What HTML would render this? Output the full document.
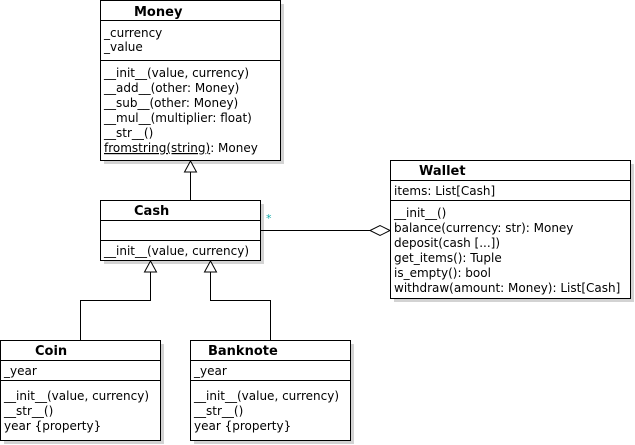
<!DOCTYPE html>
<html><head><style>
html,body{margin:0;padding:0;background:#fff;}
svg{display:block;}
text{font-family:"DejaVu Sans",sans-serif;font-size:12px;fill:#000;}
.b{font-weight:bold;font-size:13px;}
</style></head><body>
<svg width="635" height="445" xmlns="http://www.w3.org/2000/svg">
<g fill="#d3d3d3">
<rect x="104" y="4" width="180" height="160"/>
<rect x="104" y="204" width="160" height="60"/>
<rect x="394" y="164" width="240" height="138"/>
<rect x="4" y="344" width="160" height="100"/>
<rect x="194" y="344" width="160" height="100"/>
</g>
<g fill="#fff" stroke="#000" stroke-width="1">
<rect x="100.5" y="0.5" width="180" height="160"/>
<rect x="100.5" y="200.5" width="160" height="60"/>
<rect x="390.5" y="160.5" width="240" height="138"/>
<rect x="0.5" y="340.5" width="160" height="100"/>
<rect x="190.5" y="340.5" width="160" height="100"/>
</g>
<g stroke="#000" stroke-width="1" fill="none">
<path d="M100 20.5H281M100 60.5H281"/>
<path d="M100 220.5H261M100 240.5H261"/>
<path d="M390 180.5H631M390 200.5H631"/>
<path d="M0 360.5H161M0 380.5H161"/>
<path d="M190 360.5H351M190 380.5H351"/>
<path d="M190.5 172V200"/>
<path d="M150.5 272V300.5H80.5V340"/>
<path d="M210.5 272V300.5H270.5V340"/>
<path d="M261 230.5H370"/>
</g>
<g stroke="#000" fill="#fff">
<path d="M190.5 161L184.5 172H196.5Z"/>
<path d="M150.5 261L144.5 272H156.5Z"/>
<path d="M210.5 261L204.5 272H216.5Z"/>
<path d="M390 230.5L380 225.5L370 230.5L380 235.5Z"/>
</g>
<text x="266" y="222" style="fill:#1aa;font-size:11px">*</text>
<text class="b" x="134" y="16">Money</text>
<text x="104" y="37">_currency</text>
<text x="104" y="51">_value</text>
<text x="104" y="77">__init__(value, currency)</text>
<text x="104" y="92">__add__(other: Money)</text>
<text x="104" y="107">__sub__(other: Money)</text>
<text x="104" y="122">__mul__(multiplier: float)</text>
<text x="104" y="137">__str__()</text>
<text x="104" y="152"><tspan text-decoration="underline">fromstring(string)</tspan>: Money</text>
<text class="b" x="134" y="215">Cash</text>
<text x="104" y="255">__init__(value, currency)</text>
<text class="b" x="419" y="175">Wallet</text>
<text x="394" y="195">items: List[Cash]</text>
<text x="394" y="217">__init__()</text>
<text x="394" y="232">balance(currency: str): Money</text>
<text x="394" y="247">deposit(cash [...])</text>
<text x="394" y="262">get_items(): Tuple</text>
<text x="394" y="277">is_empty(): bool</text>
<text x="394" y="292">withdraw(amount: Money): List[Cash]</text>
<text class="b" x="35" y="355">Coin</text>
<text x="4" y="375">_year</text>
<text x="4" y="400">__init__(value, currency)</text>
<text x="4" y="415">__str__()</text>
<text x="4" y="430">year {property}</text>
<text class="b" x="208" y="355">Banknote</text>
<text x="194" y="375">_year</text>
<text x="194" y="400">__init__(value, currency)</text>
<text x="194" y="415">__str__()</text>
<text x="194" y="430">year {property}</text>
</svg>
</body></html>
